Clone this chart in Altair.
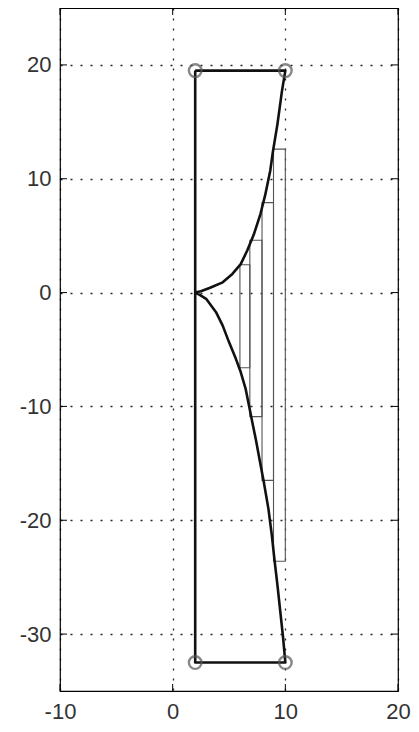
import altair as alt
import pandas as pd

# Polygon outline (closed path)
upper_x = [10, 9.7, 9.3, 8.9, 8.66, 8.22, 7.79, 7.2, 6.62, 6.04, 5.3, 4.44, 3.27, 2.5, 2]
upper_y = [19.5, 17.7, 14.8, 12.4, 10.7, 8.6, 6.9, 5.1, 3.7, 2.5, 1.64, 0.9, 0.4, 0.12, 0]
lower_x = [2.4, 2.97, 3.85, 4.44, 5.0, 5.6, 6.04, 6.47, 6.77, 7.06, 7.4, 7.72, 8.1, 8.5,
           8.8, 9.04, 9.3, 9.55, 9.8, 10]
lower_y = [-0.2, -0.55, -1.72, -2.9, -4.35, -5.8, -6.98, -8.43, -9.9, -11.35, -13.0, -14.7,
           -16.7, -19.0, -21.3, -23.5, -25.7, -28.0, -30.3, -32.5]
start_x = [2]
start_y = [19.5]
end_x = [2, 2]
end_y = [-32.5, 19.5]

# Corner markers
corner_x = [2, 10, 2, 10]
corner_y = [19.5, 19.5, -32.5, -32.5]

# Rectangles
rect_x1 = [5.97, 6.85, 7.93, 8.95]
rect_x2 = [6.85, 7.93, 8.95, 10]
rect_top = [2.45, 4.6, 7.9, 12.6]
rect_bottom = [-6.6, -10.9, -16.5, -23.6]

x_ticks = [-10, 0, 10, 20]
y_ticks = [-30, -20, -10, 0, 10, 20]

W, H = 338, 683
TICK = 7

path_x = start_x + upper_x + lower_x + end_x
path_y = start_y + upper_y + lower_y + end_y
path = pd.DataFrame({"x": path_x, "y": path_y, "o": list(range(len(path_x)))})
corners = pd.DataFrame({"x": corner_x, "y": corner_y})
rects = pd.DataFrame({"x1": rect_x1, "x2": rect_x2, "top": rect_top, "bottom": rect_bottom})
xt = pd.DataFrame({"v": x_ticks})
yt = pd.DataFrame({"v": y_ticks})

xscale = alt.Scale(domain=[-10, 20], nice=False, zero=False)
yscale = alt.Scale(domain=[-35, 25], nice=False, zero=False)

common = dict(title=None, grid=True, ticks=False, domain=False,
              labelFontSize=22, labelFont="Liberation Sans", labelColor="#333333",
              gridColor="#000000", gridDash=[2, 8], gridWidth=1.3, gridOpacity=0.85,
              labelFlush=False, labelExpr="'' + datum.value")
xaxis = alt.Axis(values=x_ticks, labelPadding=10, **common)
yaxis = alt.Axis(values=y_ticks, labelPadding=9, **common)

base_axes = alt.Chart(corners).mark_point(opacity=0).encode(
    x=alt.X("x:Q", scale=xscale, axis=xaxis),
    y=alt.Y("y:Q", scale=yscale, axis=yaxis),
)

rect_layer = alt.Chart(rects).mark_rect(fill=None, fillOpacity=0, stroke="#555555", strokeWidth=1.1).encode(
    x=alt.X("x1:Q", scale=xscale), x2="x2:Q",
    y=alt.Y("bottom:Q", scale=yscale), y2="top:Q",
)

line_layer = alt.Chart(path).mark_line(color="#111111", strokeWidth=2.6, strokeJoin="round").encode(
    x=alt.X("x:Q", scale=xscale),
    y=alt.Y("y:Q", scale=yscale),
    order="o:Q",
)

corner_layer = alt.Chart(corners).mark_point(shape="circle", filled=False, size=160,
                                             stroke="#555555", strokeWidth=2.4).encode(
    x=alt.X("x:Q", scale=xscale),
    y=alt.Y("y:Q", scale=yscale),
)

tick_style = dict(color="#000000", strokeWidth=1)
bottom_ticks = alt.Chart(xt).mark_rule(**tick_style).encode(
    x=alt.X("v:Q", scale=xscale), y=alt.value(H), y2=alt.value(H - TICK))
top_ticks = alt.Chart(xt).mark_rule(**tick_style).encode(
    x=alt.X("v:Q", scale=xscale), y=alt.value(0), y2=alt.value(TICK))
left_ticks = alt.Chart(yt).mark_rule(**tick_style).encode(
    y=alt.Y("v:Q", scale=yscale), x=alt.value(0), x2=alt.value(TICK))
right_ticks = alt.Chart(yt).mark_rule(**tick_style).encode(
    y=alt.Y("v:Q", scale=yscale), x=alt.value(W), x2=alt.value(W - TICK))

chart = alt.layer(
    base_axes, rect_layer, line_layer, corner_layer,
    bottom_ticks, top_ticks, left_ticks, right_ticks,
).properties(
    width=W, height=H,
    autosize=alt.AutoSizeParams(type="none"),
    padding={"left": 52, "top": 0, "right": 13, "bottom": 33},
    background="#ffffff",
).configure_view(
    stroke="#000000", strokeWidth=1.2,
)

chart.save("out.html", embed_options={"renderer": "svg", "actions": False})
